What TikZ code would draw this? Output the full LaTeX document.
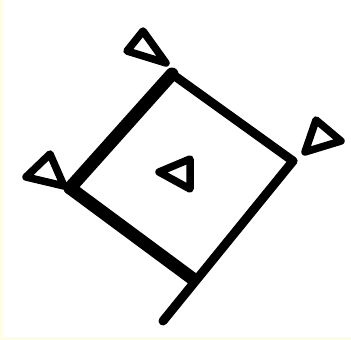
\documentclass[tikz,border=0pt]{standalone}
\usetikzlibrary{arrows.meta}
\definecolor{paper}{RGB}{255,253,232}

\begin{document}
\begin{tikzpicture}[x=1pt, y=-1pt, line join=round, line cap=round]
  % Background
  \fill[paper] (0,0) rectangle (351,340);
  \fill[white] (3,0) rectangle (351,337);
  \useasboundingbox (0,0) rectangle (351,340);
  % Corners of the tilted square
  \coordinate (top) at (172,74);
  \coordinate (rgt) at (293,161);
  \coordinate (bot) at (193,279);
  \coordinate (lft) at (70,188);
  \coordinate (tail) at (163,321);
  % Thick sides
  \draw[line width=13pt] (lft) -- (top);
  \draw[line width=13pt] (lft) -- (bot);
  % Thin sides and tail
  \draw[line width=9pt] (top) -- (rgt);
  \draw[line width=9pt] (rgt) -- (tail);
  % Triangles at the corners
  \draw[line width=7.5pt] (143,31) -- (127,51) -- (166,63) -- cycle;
  \draw[line width=7.5pt] (50,154) -- (26,177) -- (64,186) -- cycle;
  \draw[line width=7.5pt] (316,120) -- (305,152) -- (341,141) -- cycle;
  % Triangle in the middle
  \draw[line width=7.5pt] (190,159) -- (159,172) -- (190,189) -- cycle;
\end{tikzpicture}
\end{document}
